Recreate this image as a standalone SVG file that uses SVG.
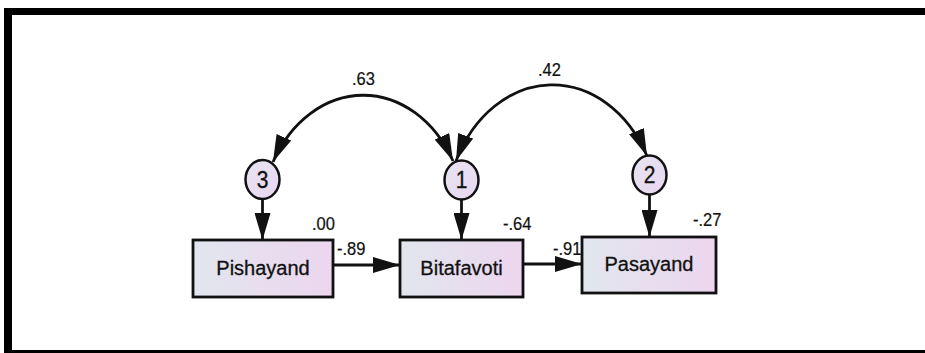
<svg xmlns="http://www.w3.org/2000/svg" width="925" height="353" viewBox="0 0 925 353">
  <style>
    .box { stroke: #111; stroke-width: 2.8; fill: url(#boxfill); }
    .err { stroke: #111; stroke-width: 2.5; fill: url(#errfill); }
    .lbl { font-family: "Liberation Sans", Arial, sans-serif; font-size: 20px; fill: #111; stroke: #111; stroke-width: 0.3; text-anchor: middle; }
    .cir { font-family: "Liberation Sans", Arial, sans-serif; font-size: 21px; fill: #111; stroke: #111; stroke-width: 0.3; text-anchor: middle; }
    .num { font-family: "Liberation Sans", Arial, sans-serif; font-size: 16.5px; fill: #111; stroke: #111; stroke-width: 0.2; }
    .conn { stroke: #111; stroke-width: 2.8; fill: none; marker-end: url(#arr); }
    .cov { stroke: #111; stroke-width: 2.8; fill: none; marker-start: url(#arr); marker-end: url(#arr); }
  </style>
  <defs>
    <linearGradient id="boxfill" x1="0" y1="0" x2="1" y2="0">
      <stop offset="0" stop-color="#e1e6ee"/>
      <stop offset="1" stop-color="#edd6ef"/>
    </linearGradient>
    <linearGradient id="errfill" x1="0" y1="0" x2="1" y2="1">
      <stop offset="0" stop-color="#e8e4f2"/>
      <stop offset="1" stop-color="#e8d6ef"/>
    </linearGradient>
    <marker id="arr" markerUnits="userSpaceOnUse" viewBox="0 0 27 16" markerWidth="27" markerHeight="16" refX="27" refY="8" orient="auto-start-reverse">
      <path d="M0,0 L27,8 L0,16 Z" fill="#111"/>
    </marker>
  </defs>

  <!-- frame -->
  <rect x="4" y="8" width="925" height="350" fill="#000"/>
  <rect x="12" y="15" width="925" height="335" fill="#fff"/>

  <g id="connectors">
    <path class="cov" d="M273,162 A103,129 0 0 1 453,161"/>
    <path class="cov" d="M456,161 A107,134 0 0 1 647,156"/>
    <path class="conn" d="M262.5,199 V240"/>
    <path class="conn" d="M461.5,200 V240"/>
    <path class="conn" d="M649.5,195 V237"/>
    <path class="conn" d="M333,265 H400"/>
    <path class="conn" d="M523,264 H582"/>
  </g>

  <g id="e3">
    <ellipse class="err" cx="262.5" cy="179.5" rx="17" ry="19.5"/>
    <text class="cir" transform="translate(262.5,187.5) scale(1,1.1)">3</text>
  </g>
  <g id="e1">
    <ellipse class="err" cx="461.5" cy="180" rx="17" ry="19.5"/>
    <text class="cir" transform="translate(461.5,188) scale(1,1.1)">1</text>
  </g>
  <g id="e2">
    <ellipse class="err" cx="649.5" cy="175" rx="17" ry="19.5"/>
    <text class="cir" transform="translate(649.5,183) scale(1,1.1)">2</text>
  </g>

  <g id="pishayand">
    <rect class="box" x="193" y="240" width="140" height="57"/>
    <text class="lbl" x="263" y="275">Pishayand</text>
  </g>
  <g id="bitafavoti">
    <rect class="box" x="400" y="240" width="123" height="57"/>
    <text class="lbl" x="461.5" y="275">Bitafavoti</text>
  </g>
  <g id="pasayand">
    <rect class="box" x="582" y="237" width="134" height="56"/>
    <text class="lbl" x="649" y="271">Pasayand</text>
  </g>

  <g id="labels">
    <text class="num" transform="translate(312,230) scale(1,1.15)">.00</text>
    <text class="num" transform="translate(337,255) scale(1,1.15)">-.89</text>
    <text class="num" transform="translate(503,230) scale(1,1.15)">-.64</text>
    <text class="num" transform="translate(553,255) scale(1,1.15)">-.91</text>
    <text class="num" transform="translate(693,226) scale(1,1.15)">-.27</text>
    <text class="num" transform="translate(352,85) scale(1,1.15)">.63</text>
    <text class="num" transform="translate(538,76) scale(1,1.15)">.42</text>
  </g>
</svg>
